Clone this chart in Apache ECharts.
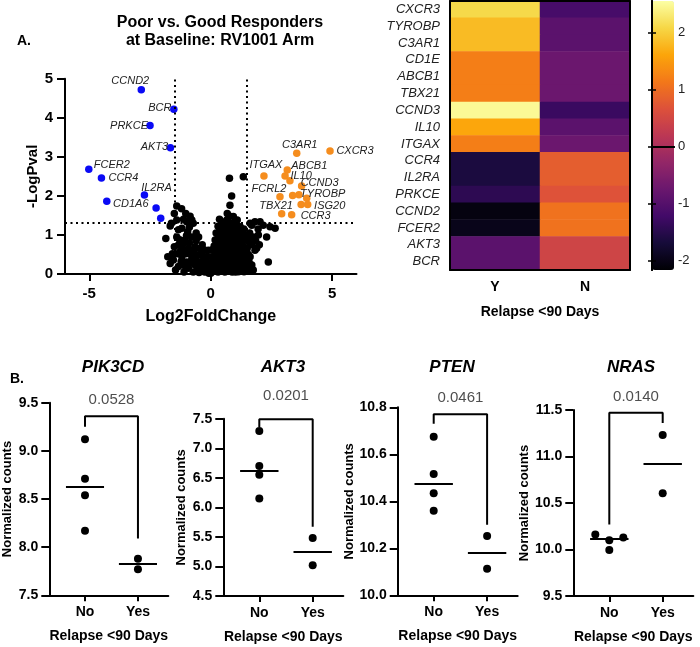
<!DOCTYPE html>
<html><head><meta charset="utf-8">
<script src="https://cdn.jsdelivr.net/npm/echarts@6.0.0/dist/echarts.min.js"></script>
<style>html,body{margin:0;padding:0;background:#fff}#c{width:700px;height:647px}</style>
</head><body><div id="c"></div>
<script>
// ---------------- DATA ----------------
// Volcano: down-regulated (blue) genes
const downGenes = ['CCND2','BCR','PRKCE','AKT3','FCER2','CCR4','IL2RA','CD1A6','',''];
const downFC    = [-2.86,-1.52,-2.50,-1.66,-5.02,-4.50,-2.73,-4.28,-2.25,-2.06];
const downP     = [4.72,4.22,3.80,3.23,2.68,2.46,2.02,1.86,1.69,1.43];
// Volcano: up-regulated (orange) genes
const upGenes = ['C3AR1','CXCR3','ITGAX','ABCB1','IL10','','CCND3','FCRL2','','','TYROBP','TBX21','ISG20','','CCR3'];
const upFC    = [3.54,4.91,2.19,3.15,3.06,3.26,3.74,2.85,3.37,3.63,3.95,3.72,3.99,2.92,3.33];
const upP     = [3.09,3.15,2.51,2.66,2.51,2.39,2.25,1.98,2.01,2.03,1.94,1.78,1.78,1.54,1.52];
// Volcano: non-significant genes [log2FC, -logP]
const nsGenes = [
 [0.77,2.45],[1.34,2.49],[0.86,2.00],[0.79,1.76],[0.68,1.55],[0.93,1.47],[1.09,1.38],[0.45,1.34],
 [-1.40,1.74],[-1.20,1.67],[-1.50,1.55],[-1.03,1.55],[-1.62,1.30],[-1.40,1.38],[-0.99,1.34],[-0.78,1.38],
 [-1.67,1.23],[-1.33,1.13],[-0.95,1.08],[-1.85,0.91],[-1.40,0.95],[-1.06,0.87],[-0.78,0.95],[-1.33,0.74],
 [-1.13,0.78],[-0.92,0.66],[-0.65,0.70],[-1.77,0.44],[-1.54,0.36],[-1.19,0.44],[-0.99,0.31],[-1.67,0.27],
 [-0.78,0.40],[-0.58,0.49],[-1.33,0.19],[-0.92,0.15],[-0.65,0.23],[-0.44,0.31],[-0.37,0.10],[-0.72,0.05],
 [-0.16,0.19],[-0.03,0.06],[-0.10,0.61],[-1.19,1.17],[-0.72,1.30],[-0.50,0.95],[-0.45,0.65],[-0.30,0.45],
 [-0.55,0.12],[-0.25,0.05],[-1.10,0.05],[-1.45,0.10],[-0.85,0.52],[-1.05,0.20],[-0.60,1.05],[-0.35,0.75],
 [-0.20,0.35],[-1.25,0.58],[-1.50,0.70],[-0.88,1.20],
 [0.04,0.06],[0.18,0.23],[0.25,0.61],[0.18,0.87],[0.04,0.44],[0.10,0.15],[0.30,0.05],[0.45,0.15],
 [0.59,0.57],[0.18,0.40],[0.86,0.23],[1.14,0.06],[1.37,0.06],[1.14,0.57],[1.41,0.31],[1.69,0.23],
 [1.82,0.61],[1.55,0.83],[2.37,0.31],[2.30,0.95],[2.65,1.17],[1.96,1.00],[2.44,1.21],[2.16,1.25],
 [1.82,1.34],[2.03,1.34],[1.69,1.25],[1.62,1.30],[1.28,1.08],[0.79,1.00],[0.31,1.00],[1.07,1.25],
 [0.66,1.25],[0.75,1.49],[0.38,1.13],[0.86,1.04],[1.21,1.21],[0.25,0.87],[0.66,0.78],[1.07,0.87],
 [1.48,0.87],[1.89,0.66],[1.62,0.44],[1.34,0.36],[1.62,0.10],[1.44,0.21],[1.75,0.10],
 [0.30,0.30],[0.35,0.50],[0.40,0.70],[0.45,0.90],[0.50,1.10],[0.55,0.35],[0.60,0.15],[0.65,0.95],
 [0.70,0.55],[0.75,0.30],[0.80,0.80],[0.85,1.20],[0.90,0.45],[0.95,0.65],[1.00,0.20],[1.05,1.05],
 [1.10,0.40],[1.15,0.75],[1.20,0.95],[1.25,0.55],[1.30,0.20],[1.35,0.70],[1.40,1.00],[1.45,0.45],
 [1.50,0.65],[0.50,0.50],[0.55,0.75],[0.60,1.05],[0.65,0.40],[0.70,0.10],[0.75,1.15],[0.80,0.55],
 [0.85,0.35],[0.90,0.90],[0.95,0.10],[1.00,0.45],[1.05,0.60],[1.10,0.15],[1.15,1.00],[1.20,0.30],
 [1.25,0.85],[0.35,0.25],[0.42,0.40],[0.48,0.28],[0.52,0.65],[0.58,0.85],[0.62,0.30],[0.68,1.05],
 [0.72,0.70],[0.78,0.45],[0.82,0.15],[0.88,0.65],[0.92,0.25],[0.98,0.95],[1.02,0.70],[1.08,0.50],
 [1.12,0.95],[1.18,0.55],[1.22,0.10],[1.28,0.45],[1.32,0.85],[0.15,0.10],[0.22,0.35],[0.28,0.15],
 [0.12,0.30],[0.08,0.22],[0.38,0.10],[0.20,0.50],[0.26,0.72],[0.33,0.85],[0.40,1.00],[0.55,1.20],
 [0.70,1.35],[0.90,1.30],[1.00,1.15],[1.55,0.50],[1.70,0.75],[1.75,0.95],[1.60,1.05],[1.85,0.85],
 [2.00,0.75],[1.95,1.15],[-0.05,0.28],[-0.12,0.12],[0.00,0.02],
 [-1.28,0.88],[-1.15,0.62],[-1.02,0.52],[-0.88,0.80],[-0.70,0.60],[-0.62,0.38],[-0.50,0.22],[-0.40,0.48],
 [-0.28,0.62],[-0.22,0.20],[-0.33,0.28],[-0.48,0.04],[-0.82,0.28],[-1.00,0.98],[-1.22,0.32],[-1.38,0.52],
 [-1.58,0.52],[-1.12,1.40],[-0.85,1.48],[-0.60,0.85],[-0.15,0.45],[-0.08,0.02],[0.06,0.62],[0.14,0.72],
 [0.22,1.05],[0.30,1.22],[0.36,1.40],[0.48,1.25],[0.52,0.88],[0.58,0.05],[0.64,0.62],[0.68,0.22],
 [0.74,0.88],[0.78,1.30],[0.84,0.95],[0.88,0.05],[0.94,0.52],[0.98,0.35],[1.04,0.92],[1.06,0.28],
 [1.12,0.70],[1.16,0.25],[1.18,1.10],[1.24,0.70],[1.26,0.32],[1.34,0.55],[1.36,1.15],[1.42,0.62],
 [1.46,0.12],[1.52,0.92],[1.58,0.30],[0.44,0.58],[0.46,0.78],[0.54,0.18],[0.62,0.48],[0.66,1.38],
 [0.72,0.40],[0.82,0.65],[0.86,0.48],[0.96,0.78],[1.02,0.05],[1.08,0.78],[0.32,0.65],[0.28,0.42]
];
const fcCutoff = 1.5;
const pCutoff = 1.3;
const volcanoXTicks = [-5, 0, 5];

// Heatmap (z-scores)
const heatGenes = ['CXCR3','TYROBP','C3AR1','CD1E','ABCB1','TBX21','CCND3','IL10','ITGAX','CCR4','IL2RA','PRKCE','CCND2','FCER2','AKT3','BCR'];
const heatGroups = ['Y','N'];
const heatY = [2.11,1.82,1.82,1.21,1.21,1.21,2.49,1.63,1.21,-1.63,-1.63,-1.44,-2.05,-1.96,-0.92,-0.92];
const heatN = [-1.16,-0.92,-0.92,-0.73,-0.73,-0.73,-1.30,-0.92,-0.73,0.83,0.83,0.69,1.07,1.07,0.45,0.45];
const colorbarTicks = [-2,-1,0,1,2];
const colorMin = -2.16, colorMax = 2.56;

// Dot plots
const groupNames = ['No','Yes'];
const panelGenes = ['PIK3CD','AKT3','PTEN','NRAS'];
const pikNo = [9.12,8.71,8.54,8.17],    pikYes = [7.88,7.77];
const aktNo = [7.29,6.70,6.55,6.15],    aktYes = [5.48,5.02];
const ptenNo = [10.675,10.516,10.434,10.36], ptenYes = [10.252,10.113];
const nrasNo = [10.10,9.995,10.16,10.13], nrasYes = [11.23,10.605];
const pValues = ['0.0528','0.0201','0.0461','0.0140'];
const yRanges = [[7.5,9.5,0.5],[4.5,7.5,0.5],[10.0,10.8,0.2],[9.5,11.5,0.5]];
// bracket levels [left end, top, right end] in data units
const brackets = [[9.25,9.36,8.09],[7.36,7.49,5.67],[10.73,10.77,10.30],[10.27,11.47,11.36]];

// ---------------- LAYOUT / STYLE ----------------
const FONT = '"Liberation Sans", Arial, Helvetica, sans-serif';
const inferno = ['#000004','#160b39','#420a68','#6a176e','#932667','#bc3754','#dd513a','#f37819','#fca50a','#f6d746','#fcffa4'];
const downOffsets = {CCND2:[-11,-9],BCR:[-14,-1],PRKCE:[-21,0],AKT3:[-16,-1],FCER2:[23,-4],CCR4:[22,0],IL2RA:[12,-7],CD1A6:[24,3]};
const upOffsets = {C3AR1:[3,-8],CXCR3:[25,0],ITGAX:[2,-11],ABCB1:[22,-4],IL10:[16,0],CCND3:[18,-3],FCRL2:[-11,-8],TYROBP:[16,-4],TBX21:[-25,1],ISG20:[22,1],CCR3:[24,1]};
const panelGrids = [
  {left:49.3, top:402.7, width:119, height:192.6},
  {left:223.3, top:418.7, width:120, height:177.3},
  {left:397.7, top:407.3, width:120, height:188},
  {left:573.3, top:410, width:120, height:186}
];
const panelTitleX = [113, 283, 452, 631];
const pLabelDist = [8, 15, 8, 8];
const groupPos = [0.30, 0.745];

const chart = echarts.init(document.getElementById('c'), null, {renderer:'canvas'});

function median(a){const s=[...a].sort((x,y)=>x-y);const n=s.length;return n%2?s[(n-1)/2]:(s[n/2-1]+s[n/2])/2;}
function swarm(vals, center, pxPerY, stepX, stepPx, diam){
  const placed=[];
  return vals.map(v=>{
    const y=v*pxPerY; let k=0;
    for(const o of [0,-1,1,-2,2]){
      if(placed.every(p=>Math.hypot((p.o-o)*stepPx, p.y-y)>=diam)){k=o;break;}
    }
    placed.push({o:k,y}); return [center+k*stepX, v];
  });
}

const labelBase = {show:true, position:'inside', fontFamily:FONT, fontSize:11, fontStyle:'italic', color:'#222'};
function geneItems(genes, fc, p, offs){
  return genes.map((g,i)=>({
    name:g, value:[fc[i],p[i]],
    label: g ? Object.assign({}, labelBase, {formatter:g, offset:offs[g]||[0,0]}) : {show:false}
  }));
}

const axisLineStyle = {color:'#000', width:2};
const grids = [
  {left:65, top:78.7, width:291.5, height:195.3},
  {left:450, top:1, width:180, height:269},
  {left:652, top:1, width:22, height:269}
].concat(panelGrids);

const xAxes = [
  {gridIndex:0, type:'value', min:-6, max:6, splitLine:{show:false},
   axisLine:{onZero:false, lineStyle:axisLineStyle},
   axisTick:{customValues:volcanoXTicks, length:7, lineStyle:{width:2,color:'#000'}},
   axisLabel:{customValues:volcanoXTicks, fontFamily:FONT, fontSize:15, fontWeight:'bold', color:'#000', margin:12},
   name:'Log2FoldChange', nameLocation:'middle', nameGap:35,
   nameTextStyle:{fontFamily:FONT, fontSize:16, fontWeight:'bold', color:'#000'}},
  {gridIndex:1, type:'category', data:heatGroups, position:'bottom', z:10,
   axisLine:{lineStyle:axisLineStyle},
   axisTick:{alignWithLabel:true, length:6, lineStyle:{width:1.5,color:'#000'}},
   axisLabel:{interval:0, fontFamily:FONT, fontSize:14, fontWeight:'bold', color:'#000', margin:10},
   name:'Relapse <90 Days', nameLocation:'middle', nameGap:35,
   nameTextStyle:{fontFamily:FONT, fontSize:14, fontWeight:'bold', color:'#000'}},
  {gridIndex:1, type:'category', data:heatGroups, position:'top', z:10,
   axisLine:{lineStyle:axisLineStyle}, axisTick:{show:false}, axisLabel:{show:false}},
  {gridIndex:2, type:'value', min:0, max:1, position:'bottom', z:10,
   axisLine:{lineStyle:axisLineStyle}, axisTick:{show:false}, axisLabel:{show:false}, splitLine:{show:false}},
  {gridIndex:2, type:'value', min:0, max:1, position:'top', z:10,
   axisLine:{lineStyle:axisLineStyle}, axisTick:{show:false}, axisLabel:{show:false}, splitLine:{show:false}}
];
const yAxes = [
  {gridIndex:0, type:'value', min:0, max:5, interval:1, splitLine:{show:false},
   axisLine:{show:true, onZero:false, lineStyle:axisLineStyle},
   axisTick:{show:true, length:8, lineStyle:{width:2,color:'#000'}},
   axisLabel:{fontFamily:FONT, fontSize:15, fontWeight:'bold', color:'#000', margin:12},
   name:'-LogPval', nameLocation:'middle', nameGap:25,
   nameTextStyle:{fontFamily:FONT, fontSize:15, fontWeight:'bold', color:'#000'}},
  {gridIndex:1, type:'category', data:heatGenes, inverse:true, position:'left', z:10,
   axisLine:{lineStyle:axisLineStyle},
   axisTick:{alignWithLabel:true, interval:0, length:7, lineStyle:{width:1.5,color:'#000'}},
   axisLabel:{interval:0, fontFamily:FONT, fontSize:13, fontStyle:'italic', color:'#222', margin:10}},
  {gridIndex:1, type:'category', data:heatGenes, inverse:true, position:'right', z:10,
   axisLine:{lineStyle:axisLineStyle}, axisTick:{show:false}, axisLabel:{show:false}},
  {gridIndex:2, type:'value', min:colorMin, max:colorMax, position:'right', z:10, splitLine:{show:false},
   axisLine:{show:true, lineStyle:axisLineStyle},
   axisTick:{show:true, inside:true, customValues:colorbarTicks, length:4, lineStyle:{width:1.5,color:'#000'}},
   axisLabel:{customValues:colorbarTicks, fontFamily:FONT, fontSize:13, color:'#222', margin:4}},
  {gridIndex:2, type:'value', min:colorMin, max:colorMax, position:'left', z:10, splitLine:{show:false},
   axisLine:{show:true, lineStyle:axisLineStyle},
   axisTick:{show:true, inside:true, customValues:colorbarTicks, length:4, lineStyle:{width:1.5,color:'#000'}},
   axisLabel:{show:false}}
];

const series = [
  {type:'scatter', xAxisIndex:0, yAxisIndex:0, data:nsGenes, symbolSize:7.5, itemStyle:{color:'#000', opacity:1}, silent:true,
   markLine:{silent:true, symbol:'none', label:{show:false},
     lineStyle:{color:'#000', width:2, type:[2,3.5]},
     data:[{xAxis:-fcCutoff},{xAxis:fcCutoff},{yAxis:pCutoff}]}},
  {type:'scatter', xAxisIndex:0, yAxisIndex:0, data:geneItems(downGenes,downFC,downP,downOffsets), symbolSize:7.5, itemStyle:{color:'#0a0af5', opacity:1}, z:3},
  {type:'scatter', xAxisIndex:0, yAxisIndex:0, data:geneItems(upGenes,upFC,upP,upOffsets), symbolSize:7.5, itemStyle:{color:'#f58d1e', opacity:1}, z:3},
  {type:'heatmap', xAxisIndex:1, yAxisIndex:1,
   data: heatGenes.flatMap((g,i)=>[[0,i,heatY[i]],[1,i,heatN[i]]]), itemStyle:{borderWidth:0}}
];
const heatIndex = 3;

const titles = [
  {text:'A.', left:17, top:34, padding:0, textStyle:{fontFamily:FONT, fontSize:14, fontWeight:'bold', color:'#000'}},
  {text:'B.', left:10, top:372, padding:0, textStyle:{fontFamily:FONT, fontSize:14, fontWeight:'bold', color:'#000'}},
  {text:'Poor vs. Good Responders\nat Baseline: RV1001 Arm', left:220, top:14, padding:0, textAlign:'center',
   textStyle:{fontFamily:FONT, fontSize:16, fontWeight:'bold', color:'#000', lineHeight:18}}
];

const panelData = [[pikNo,pikYes],[aktNo,aktYes],[ptenNo,ptenYes],[nrasNo,nrasYes]];
panelData.forEach((groups, k)=>{
  const gi = 3 + k;
  const [mn, mx, iv] = yRanges[k];
  const g = panelGrids[k];
  const pxPerY = g.height/(mx-mn);
  const stepPx = 14, stepX = stepPx/g.width;
  xAxes.push({gridIndex:gi, type:'value', min:0, max:1, splitLine:{show:false},
    axisLine:{onZero:false, lineStyle:axisLineStyle},
    axisTick:{customValues:groupPos, length:6, lineStyle:{width:2,color:'#000'}},
    axisLabel:{customValues:groupPos, formatter:v=>groupNames[v<0.5?0:1], fontFamily:FONT, fontSize:14, fontWeight:'bold', color:'#000', margin:10},
    name:'Relapse <90 Days', nameLocation:'middle', nameGap:34,
    nameTextStyle:{fontFamily:FONT, fontSize:14, fontWeight:'bold', color:'#000'}});
  yAxes.push({gridIndex:gi, type:'value', min:mn, max:mx, interval:iv, splitLine:{show:false},
    axisLine:{show:true, onZero:false, lineStyle:axisLineStyle},
    axisTick:{show:true, length:8, lineStyle:{width:2,color:'#000'}},
    axisLabel:{formatter:v=>v.toFixed(1), fontFamily:FONT, fontSize:14, fontWeight:'bold', color:'#000', margin:11},
    name:'Normalized counts', nameLocation:'middle', nameGap:35,
    nameTextStyle:{fontFamily:FONT, fontSize:13, fontWeight:'bold', color:'#000'}});
  const pts = groups.flatMap((vals, j)=>swarm(vals, groupPos[j], pxPerY, stepX, stepPx, 8.5));
  const meds = groups.map(median);
  series.push({type:'scatter', xAxisIndex:3+2+k, yAxisIndex:3+2+k, data:pts, symbolSize:8, itemStyle:{color:'#000', opacity:1}, silent:true,
    markLine:{silent:true, symbol:'none', label:{show:false}, lineStyle:{color:'#000', width:2, type:'solid'},
      data: meds.map((m,j)=>[{coord:[groupPos[j]-0.16, m]},{coord:[groupPos[j]+0.16, m]}])}});
  const b = brackets[k];
  series.push({type:'line', xAxisIndex:3+2+k, yAxisIndex:3+2+k, clip:false, silent:true, symbol:'none',
    lineStyle:{color:'#000', width:2}, data:[[groupPos[0],b[0]],[groupPos[0],b[1]],[groupPos[1],b[1]],[groupPos[1],b[2]]]});
  series.push({type:'scatter', xAxisIndex:3+2+k, yAxisIndex:3+2+k, clip:false, silent:true, symbolSize:1,
    itemStyle:{color:'rgba(0,0,0,0)'},
    data:[[(groupPos[0]+groupPos[1])/2, b[1]]],
    label:{show:true, position:'top', distance:pLabelDist[k], formatter:pValues[k], fontFamily:FONT, fontSize:15, color:'#222'}});
  titles.push({text:panelGenes[k], left:panelTitleX[k], top:359, padding:0, textAlign:'center',
    textStyle:{fontFamily:FONT, fontSize:17, fontWeight:'bold', fontStyle:'italic', color:'#000'}});
});

chart.setOption({
  animation:false,
  backgroundColor:'#fff',
  title:titles,
  grid:grids,
  xAxis:xAxes,
  yAxis:yAxes,
  visualMap:[{type:'continuous', min:colorMin, max:colorMax, seriesIndex:heatIndex, dimension:2,
    inRange:{color:inferno}, left:652, top:1, itemWidth:22, itemHeight:269, padding:0,
    calculable:false, orient:'vertical', text:null, showLabel:false, z:2}],
  series:series
});
</script></body></html>
